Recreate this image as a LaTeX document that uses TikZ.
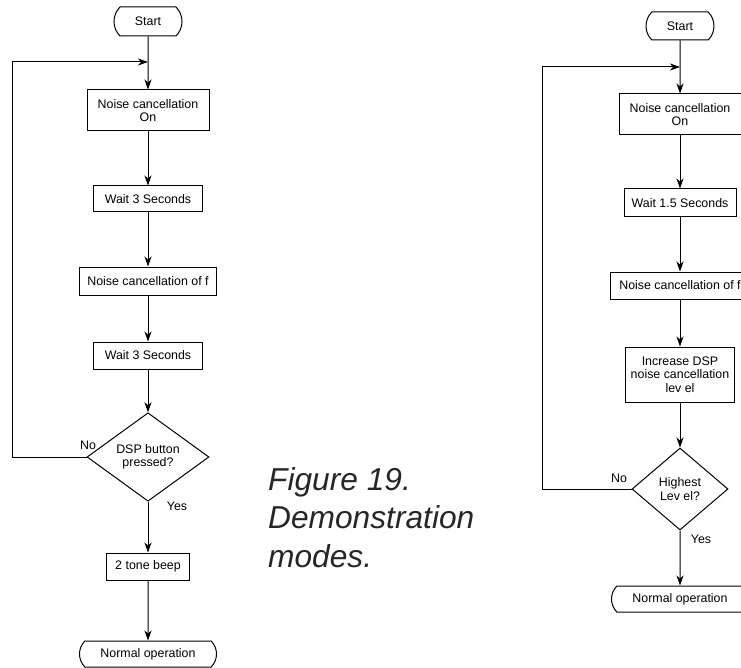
\documentclass[tikz,border=0pt]{standalone}
\usepackage{fontspec}
\setmainfont{Liberation Sans}
\usetikzlibrary{shapes.geometric,shapes.misc,arrows.meta}
\begin{document}
\begin{tikzpicture}[x=1pt,y=-1pt,
  every node/.style={font=\fontsize{12.4}{13.5}\selectfont, inner sep=0pt, align=center},
  procbox/.style={draw, line width=1pt, rectangle},
  termbox/.style={draw, line width=1pt, rounded rectangle, rounded rectangle arc length=90},
  decbox/.style={draw, line width=1pt, diamond},
  lbltext/.style={},
  captext/.style={font=\fontsize{31.7}{38}\selectfont\itshape, anchor=base west, color=black!85},
  conn/.style={line width=1pt, -{Stealth[length=10pt,width=7pt,inset=3pt]}}]
\useasboundingbox (0,0) rectangle (741,668);
\clip (0,0) rectangle (741,668);
% ---------------- left chart ----------------
\node[termbox, minimum width=68pt, minimum height=29pt] (Lstart) at (148,21.5) {Start};
\node[procbox, minimum width=122pt, minimum height=41pt] (Ln1) at (148,110.5) {Noise cancellation\\On};
\node[procbox, minimum width=109pt, minimum height=26pt] (Lw1) at (148,199) {Wait 3 Seconds};
\node[procbox, minimum width=137pt, minimum height=28pt] (Loff) at (148,281) {Noise cancellation of f};
\node[procbox, minimum width=109pt, minimum height=27pt] (Lw2) at (148,355.5) {Wait 3 Seconds};
\node[decbox, minimum width=122pt, minimum height=81pt] (Ldia) at (148,457) {DSP button\\pressed?};
\node[procbox, minimum width=83pt, minimum height=27pt] (Lbeep) at (148,566.5) {2 tone beep};
\node[termbox, minimum width=137pt, minimum height=26pt] (Lend) at (148,654) {Normal operation};
\node[lbltext] (Lno) at (88,445) {No};
\node[lbltext] (Lyes) at (177,506) {Yes};
\coordinate (Ljoin) at (148,62);
\coordinate (Lc1) at (12,457);
\coordinate (Lc2) at (12,62);
\draw[conn] (Lstart) -- (Ln1);
\draw[conn] (Ln1) -- (Lw1);
\draw[conn] (Lw1) -- (Loff);
\draw[conn] (Loff) -- (Lw2);
\draw[conn] (Lw2) -- (Ldia);
\draw[conn] (Ldia) -- (Lbeep);
\draw[conn] (Lbeep) -- (Lend);
\draw[conn] (Ldia.west) -- (Lc1) -- (Lc2) -- (Ljoin);
% ---------------- caption ----------------
\node[captext] (cap1) at (268,490) {Figure 19.};
\node[captext] (cap2) at (268,528) {Demonstration};
\node[captext] (cap3) at (268,567) {modes.};
% ---------------- right chart ----------------
\node[termbox, minimum width=68pt, minimum height=28pt] (Rstart) at (680,26) {Start};
\node[procbox, minimum width=122pt, minimum height=41pt] (Rn1) at (680,114.5) {Noise cancellation\\On};
\node[procbox, minimum width=112pt, minimum height=28pt] (Rw1) at (680,203) {Wait 1.5 Seconds};
\node[procbox, minimum width=140pt, minimum height=27pt] (Roff) at (680,285.5) {Noise cancellation of f};
\node[procbox, minimum width=109pt, minimum height=55pt] (Rinc) at (680,374.5) {Increase DSP\\noise cancellation\\lev el};
\node[decbox, minimum width=96pt, minimum height=82pt] (Rdia) at (680,489) {Highest\\Lev el?};
\node[termbox, minimum width=137pt, minimum height=26pt] (Rend) at (680,599) {Normal operation};
\node[lbltext] (Rno) at (619,478) {No};
\node[lbltext] (Ryes) at (701,539) {Yes};
\coordinate (Rjoin) at (680,67);
\coordinate (Rc1) at (542,489);
\coordinate (Rc2) at (542,67);
\draw[conn] (Rstart) -- (Rn1);
\draw[conn] (Rn1) -- (Rw1);
\draw[conn] (Rw1) -- (Roff);
\draw[conn] (Roff) -- (Rinc);
\draw[conn] (Rinc) -- (Rdia);
\draw[conn] (Rdia) -- (Rend);
\draw[conn] (Rdia.west) -- (Rc1) -- (Rc2) -- (Rjoin);
\end{tikzpicture}
\end{document}
